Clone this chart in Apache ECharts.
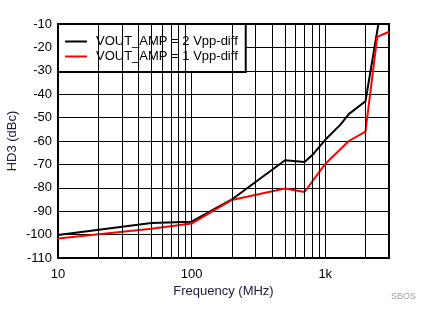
<!DOCTYPE html>
<html>
<head>
<meta charset="utf-8">
<script src="https://cdn.jsdelivr.net/npm/echarts@6/dist/echarts.min.js"></script>
<style>
html,body{margin:0;padding:0;background:#fff;}
#c{width:433px;height:324px;}
</style>
</head>
<body>
<div id="c"></div>
<script>
var seriesNames = ['VOUT_AMP = 2 Vpp-diff', 'VOUT_AMP = 1 Vpp-diff'];
var freq2V = [10, 50, 100, 200, 500, 700, 800, 1000, 1300, 1500, 2000, 2500];
var hd3_2V = [-100.2, -95, -94.5, -85, -68.2, -69, -66, -59.5, -53, -48.5, -43, -10];
var freq1V = [10, 50, 100, 200, 500, 700, 1000, 1500, 2000, 2450, 3000];
var hd3_1V = [-101.7, -97.5, -95.3, -85.2, -80.3, -81.8, -69.8, -60, -56, -15.5, -13.3];
var minorGrid = [20, 30, 40, 50, 60, 70, 80, 90, 200, 300, 400, 500, 600, 700, 800, 900, 2000];
var xTickLabels = {10: '10', 100: '100', 1000: '1k'};

function pairs(xs, ys) { return xs.map(function (x, i) { return [x, ys[i]]; }); }

var font = "'Liberation Sans', Arial, sans-serif";
var chart = echarts.init(document.getElementById('c'), null, {renderer: 'canvas'});
chart.setOption({
  animation: false,
  backgroundColor: '#fff',
  grid: {left: 58, right: 44, top: 24, bottom: 66, outerBoundsMode: 'none', containLabel: false,
    show: true, borderColor: '#000', borderWidth: 2, backgroundColor: 'transparent'},
  legend: {
    left: 58, top: 24, orient: 'vertical', icon: 'rect',
    backgroundColor: '#fff', borderColor: '#000', borderWidth: 2,
    padding: [10, 8, 8, 7], itemWidth: 22, itemHeight: 2, itemGap: 0,
    textStyle: {fontFamily: font, fontSize: 13, lineHeight: 15, color: '#000', padding: [0, 0, 0, 4]},
    data: seriesNames
  },
  xAxis: {
    type: 'log', logBase: 10, min: 10, max: 3000,
    name: 'Frequency (MHz)', nameLocation: 'middle', nameGap: 27, nameMoveOverlap: false,
    nameTextStyle: {fontFamily: font, fontSize: 13, color: '#202040'},
    axisLine: {show: false}, axisTick: {show: false},
    axisLabel: {fontFamily: font, fontSize: 13, color: '#000', margin: 10, showMaxLabel: false,
      formatter: function (v) { return xTickLabels[Math.round(v)] || ''; }},
    splitLine: {show: true, lineStyle: {color: '#000', width: 1}}
  },
  yAxis: {
    type: 'value', min: -110, max: -10, interval: 10,
    name: 'HD3 (dBc)', nameLocation: 'middle', nameGap: 39, nameMoveOverlap: false,
    nameTextStyle: {fontFamily: font, fontSize: 13, color: '#202040'},
    axisLine: {show: false}, axisTick: {show: false},
    axisLabel: {fontFamily: font, fontSize: 13, color: '#000', margin: 6},
    splitLine: {show: true, lineStyle: {color: '#000', width: 1}}
  },
  graphic: [{type: 'text', left: 391, top: 292, style: {text: 'SBOS', fontFamily: font, fontSize: 9, fill: '#a0a0a0'}}],
  series: [
    {
      type: 'line', name: '_minor', data: [], z: 1, silent: true,
      markLine: {silent: true, symbol: ['none', 'none'], label: {show: false},
        lineStyle: {color: '#000', width: 1, type: 'solid'}, animation: false,
        data: minorGrid.map(function (v) { return {xAxis: v}; })}
    },
    {type: 'line', name: seriesNames[0], data: pairs(freq2V, hd3_2V), symbol: 'none', z: 3,
      lineStyle: {color: '#000', width: 2}, itemStyle: {color: '#000'}},
    {type: 'line', name: seriesNames[1], data: pairs(freq1V, hd3_1V), symbol: 'none', z: 4,
      lineStyle: {color: '#ff0000', width: 2}, itemStyle: {color: '#ff0000'}}
  ]
});
</script>
</body>
</html>
